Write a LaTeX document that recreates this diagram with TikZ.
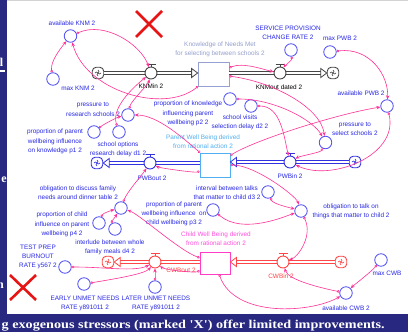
\documentclass[tikz,border=0pt]{standalone}
\usepackage{fontspec}
\setmainfont{Liberation Serif}
\setsansfont{Liberation Sans}
\usetikzlibrary{arrows.meta}
\definecolor{navy}{RGB}{40,40,128}
\definecolor{auxblue}{RGB}{80,80,245}
\definecolor{txtblue}{RGB}{40,40,230}
\definecolor{lnkpink}{RGB}{255,50,150}
\definecolor{knmgrey}{RGB}{70,70,70}
\definecolor{knmstock}{RGB}{150,160,210}
\definecolor{knmtext}{RGB}{150,160,205}
\definecolor{pwbstock}{RGB}{80,175,240}
\definecolor{pwbblue}{RGB}{50,50,225}
\definecolor{cwbstock}{RGB}{255,60,200}
\definecolor{cwbtext}{RGB}{255,80,220}
\definecolor{cwbred}{RGB}{255,70,70}
\definecolor{xred}{RGB}{230,20,20}
\tikzset{
 lbl/.style={font=\sffamily\fontsize{6.4}{9.2}\selectfont, text=txtblue, align=center, inner sep=0},
 aux/.style={circle, draw=auxblue, line width=0.8pt, minimum size=12.5pt, inner sep=0, fill=white},
 lnk/.style={draw=lnkpink, line width=0.6pt, {Circle[open,length=2.6pt,width=2.6pt]}-{Stealth[length=4pt,width=3.4pt]}},
 stockbox/.style={rectangle, draw=#1, line width=0.8pt, minimum width=30pt, minimum height=24pt, inner sep=0, fill=white},
 valvecirc/.style={circle, draw=#1, line width=0.9pt, minimum size=12pt, inner sep=0, fill=white},
 cloudbox/.style={rectangle, rounded corners=4pt, draw=#1, line width=0.9pt, minimum size=11.5pt, inner sep=0, fill=white},
 pipe/.style={draw=#1, line width=0.9pt, double=white, double distance=1.8pt},
 pipetip/.style={draw=#1, fill=white, line width=0.8pt},
 xmark/.style={draw=xred, line width=2.6pt},
 frag/.style={anchor=base east, inner sep=0, text=white, font=\bfseries\fontsize{12}{14}\selectfont},
}
\newcommand{\vsvalve}[4]{%
 \node[valvecirc=#4] (#1) at (#2,#3) {};
 \draw[#4, line width=0.9pt] (#2,#3-6) -- (#2,#3-8.5) (#2-4.5,#3-8.5) -- (#2+4.5,#3-8.5);
}
\newcommand{\vscloud}[4]{%
 \node[cloudbox=#4] (#1) at (#2,#3) {};
 \draw[#4, line width=0.6pt] (#2-3,#3) .. controls (#2-1,#3-3.5) and (#2+1,#3+3.5) .. (#2+3,#3)
   (#2,#3-3) .. controls (#2+3.5,#3-1) and (#2-3.5,#3+1) .. (#2,#3+3);
}
\begin{document}
\begin{tikzpicture}[x=1pt,y=-1pt]
\useasboundingbox (0,0) rectangle (408,332);
\fill[white] (0,0) rectangle (408,332);
\draw[gray!35, line width=0.8pt] (7,0.4) -- (408,0.4);

% red X marks
\draw[xmark] (136,11) -- (162,37) (136,37) -- (162,11);
\draw[xmark] (10,275) -- (36,300) (10,300) -- (36,275);

% stocks
\node[stockbox=knmstock, minimum width=31pt] (KNM) at (213.5,74) {};
\node[stockbox=pwbstock] (PWB) at (215,165) {};
\node[stockbox=cwbstock, minimum height=22pt] (CWB) at (215,263) {};
\node[lbl, text=knmtext] (KNMl) at (220,49) {Knowledge of Needs Met\\for selecting between schools 2};
\node[lbl, text=pwbstock] (PWBl) at (203,141.5) {Parent Well Being derived\\from rational action 2};
\node[lbl, text=cwbtext] (CWBl) at (216,239) {Child Well Being derived\\from rational action 2};

% clouds
\vscloud{cK1}{98}{73}{knmgrey}
\vscloud{cK2}{333}{73}{knmgrey}
\vscloud{cP1}{97}{163}{pwbblue}
\vscloud{cP2}{355}{162}{pwbblue}
\vscloud{cC1}{108}{262}{cwbred}
\vscloud{cC2}{341}{262}{cwbred}

% pipes
\draw[pipe=knmgrey] (cK1.east) -- ([xshift=-5pt]KNM.west |- cK1);
\draw[pipetip=knmgrey] (KNM.west |- cK1) -- ++(-6,-4.5) -- ++(0,9) -- cycle;
\draw[pipe=knmgrey] (KNM.east |- cK2) -- ([xshift=-5pt]cK2.west);
\draw[pipetip=knmgrey] (cK2.west) -- ++(-6,-4.5) -- ++(0,9) -- cycle;
\draw[pipe=pwbblue] (cP2.west) -- ([xshift=5pt]PWB.east |- cP2);
\draw[pipetip=pwbblue] (PWB.east |- cP2) -- ++(6,-4.5) -- ++(0,9) -- cycle;
\draw[pipe=pwbblue] (PWB.west |- cP1) -- ([xshift=5pt]cP1.east);
\draw[pipetip=pwbblue] (cP1.east) -- ++(6,-4.5) -- ++(0,9) -- cycle;
\draw[pipe=cwbred] (cC2.west) -- ([xshift=5pt]CWB.east |- cC2);
\draw[pipetip=cwbred] (CWB.east |- cC2) -- ++(6,-4.5) -- ++(0,9) -- cycle;
\draw[pipe=cwbred] (CWB.west |- cC1) -- ([xshift=5pt]cC1.east);
\draw[pipetip=cwbred] (cC1.east) -- ++(6,-4.5) -- ++(0,9) -- cycle;

% valves
\vsvalve{KNMin}{151}{73}{knmgrey}
\vsvalve{KNMout}{280}{73}{knmgrey}
\vsvalve{PWBout}{150}{163}{pwbblue}
\vsvalve{PWBin}{290}{162}{pwbblue}
\vsvalve{CWBout}{155}{262}{cwbred}
\vsvalve{CWBin}{283}{262}{cwbred}
\node[lbl, text=black] (KNMinl) at (151,86) {KNMin 2};
\node[lbl, text=black] (KNMoutl) at (279,87) {KNMout dated 2};
\node[lbl] (PWBoutl) at (152,178) {PWBout 2};
\node[lbl] (PWBinl) at (290,176) {PWBin 2};
\node[lbl, text=cwbred] (CWBoutl) at (181,270) {CWBout 2};
\node[lbl, text=cwbred] (CWBinl) at (281,276) {CWBin 2};

% auxiliaries
\node[aux] (availKNM) at (70.5,36) {};
\node[lbl] (availKNMl) at (72,23) {available KNM 2};
\node[aux] (maxKNM) at (53,79) {};
\node[lbl] (maxKNMl) at (78,88) {max KNM 2};
\node[aux] (SERV) at (291,50) {};
\node[lbl] (SERVl) at (288,32.5) {SERVICE PROVISION\\CHANGE RATE 2};
\node[aux] (maxPWB) at (330,52) {};
\node[lbl] (maxPWBl) at (340,38) {max PWB 2};
\node[aux] (availPWB) at (387,106) {};
\node[lbl] (availPWBl) at (361,93) {available PWB 2};
\node[aux] (pressR) at (128,115) {};
\node[lbl] (pressRl) at (93,109.5) {pressure to\\research schools 2};
\node[aux] (pone) at (94,132) {};
\node[lbl] (ponel) at (55,141.5) {proportion of parent\\wellbeing influence\\on knowledge p1 2};
\node[aux] (done) at (119,132) {};
\node[lbl] (donel) at (118,149) {school options\\research delay d1 2};
\node[aux] (ptwo) at (230,99) {};
\node[lbl] (ptwol) at (188,113.5) {proportion of knowledge\\influencing parent\\wellbeing p2 2};
\node[aux] (dtwo) at (251,106) {};
\node[lbl] (dtwol) at (240,122.5) {school visits\\selection delay d2 2};
\node[aux] (pressS) at (325.5,142.5) {};
\node[lbl] (pressSl) at (355,129) {pressure to\\select schools 2};
\node[aux] (dthree) at (268,192) {};
\node[lbl] (dthreel) at (227,192.5) {interval between talks\\that matter to child d3 2};
\node[aux] (obT) at (301,211) {};
\node[lbl] (obTl) at (351,211) {obligation to talk on\\things that matter to child 2};
\node[aux] (pthree) at (213,210) {};
\node[lbl] (pthreel) at (174,214) {proportion of parent\\wellbeing influence\ \ on\\child wellbeing p3 2};
\node[aux] (obD) at (121,208) {};
\node[lbl] (obDl) at (78,192.5) {obligation to discuss family\\needs around dinner table 2};
\node[aux] (pfour) at (99,223) {};
\node[lbl] (pfourl) at (62,224.5) {proportion of child\\influence on parent\\wellbeing p4 2};
\node[aux] (dfour) at (115,229) {};
\node[lbl] (dfourl) at (110,247.5) {interlude between whole\\family meals d4 2};
\node[aux] (TEST) at (65,267) {};
\node[lbl] (TESTl) at (38,257) {TEST PREP\\BURNOUT\\RATE y567 2};
\node[aux] (EARLY) at (84,284) {};
\node[lbl] (EARLYl) at (85,303.5) {EARLY UNMET NEEDS\\RATE y891011 2};
\node[aux] (LATER) at (155,287) {};
\node[lbl] (LATERl) at (156,303.5) {LATER UNMET NEEDS\\RATE y891011 2};
\node[aux] (maxCWB) at (381,260) {};
\node[lbl] (maxCWBl) at (387,273) {max CWB};
\node[aux] (availCWB) at (346,293) {};
\node[lbl] (availCWBl) at (346,308) {available CWB 2};

% links
\draw[lnk] (maxKNM) .. controls +(-3,-18) and +(-8,10) .. (availKNM);
\draw[lnk] (availKNM) .. controls +(35,-15) and +(-10,-28) .. (KNMin);
\draw[lnk] (KNM) .. controls +(-50,40) and +(15,55) .. (availKNM);
\draw[lnk] (done) .. controls +(-8,-25) and +(-15,12) .. (KNMin);
\draw[lnk] (pressR) .. controls +(3,-14) and +(-3,12) .. (KNMin);
\draw[lnk] (KNM) .. controls +(30,-12) and +(-15,-3) .. (KNMout);
\draw[lnk] (SERV) .. controls +(1,10) and +(4,-6) .. (KNMout);
\draw[lnk] (maxPWB) .. controls +(40,-5) and +(2,-30) .. (availPWB);
\draw[lnk] (KNM) .. controls +(60,8) and +(-5,-35) .. (pressS);
\draw[lnk] (ptwo) .. controls +(45,0) and +(-12,-22) .. (pressS);
\draw[lnk] (dtwo) .. controls +(30,0) and +(-6,-25) .. (PWBin);
\draw[lnk] (PWB) .. controls +(40,-25) and +(-50,8) .. (availPWB);
\draw[lnk] (pressS) .. controls +(-5,10) and +(10,-6) .. (PWBin);
\draw[lnk] (availPWB) .. controls +(12,50) and +(40,20) .. (PWBin);
\draw[lnk] (PWB) .. controls +(-30,-25) and +(30,0) .. (pressR);
\draw[lnk] (PWB) .. controls +(-20,8) and +(10,5) .. (PWBout);
\draw[lnk] (pone) .. controls +(10,-8) and +(-10,2) .. (pressR);
\draw[lnk] (dthree) .. controls +(5,12) and +(-10,-3) .. (obT);
\draw[lnk] (PWB) .. controls +(40,0) and +(-5,-15) .. (obT);
\draw[lnk] (pthree) .. controls +(30,25) and +(-15,5) .. (obT);
\draw[lnk] (obT) .. controls +(12,25) and +(15,-5) .. (CWBin);
\draw[lnk] (availCWB) .. controls +(-25,-5) and +(5,18) .. (CWBin);
\draw[lnk] (maxCWB) .. controls +(-10,12) and +(8,-8) .. (availCWB);
\draw[lnk] (CWB) .. controls +(20,55) and +(-35,20) .. (availCWB);
\draw[lnk] (CWB) .. controls +(-20,10) and +(10,8) .. (CWBout);
\draw[lnk] (obD) .. controls +(6,-16) and +(-8,12) .. (PWBout);
\draw[lnk] (CWB) .. controls +(-35,-12) and +(18,6) .. (obD);
\draw[lnk] (pfour) .. controls +(4,-10) and +(-8,2) .. (obD);
\draw[lnk] (dfour) .. controls +(-3,-7) and +(-4,6) .. (obD);
\draw[lnk] (TEST) .. controls +(40,0) and +(-20,10) .. (CWBout);
\draw[lnk] (EARLY) .. controls +(30,-5) and +(-10,12) .. (CWBout);
\draw[lnk] (LATER) .. controls +(0,-8) and +(0,8) .. (CWBout);

% slide frame bands
\fill[navy] (0,0) rectangle (7.3,332);
\fill[navy] (0,313.5) rectangle (408,332);
\begin{scope}
\clip (0,0) rectangle (7.3,313.5);
\node[frag] (fa) at (3.4,66.5) {l};
\fill[white] (0,70.4) rectangle (5,72.2);
\node[frag] (fc) at (7,182) {e};
\node[frag] (fd) at (4,288) {n};
\end{scope}
\node[anchor=base west, inner sep=0, text=white, font=\bfseries\fontsize{12}{14}\selectfont] (btxt) at (1.5,328.5)
 {\resizebox{383pt}{\height}{g exogenous stressors (marked \textquotesingle X\textquotesingle) offer limited improvements.}};
\end{tikzpicture}
\end{document}
